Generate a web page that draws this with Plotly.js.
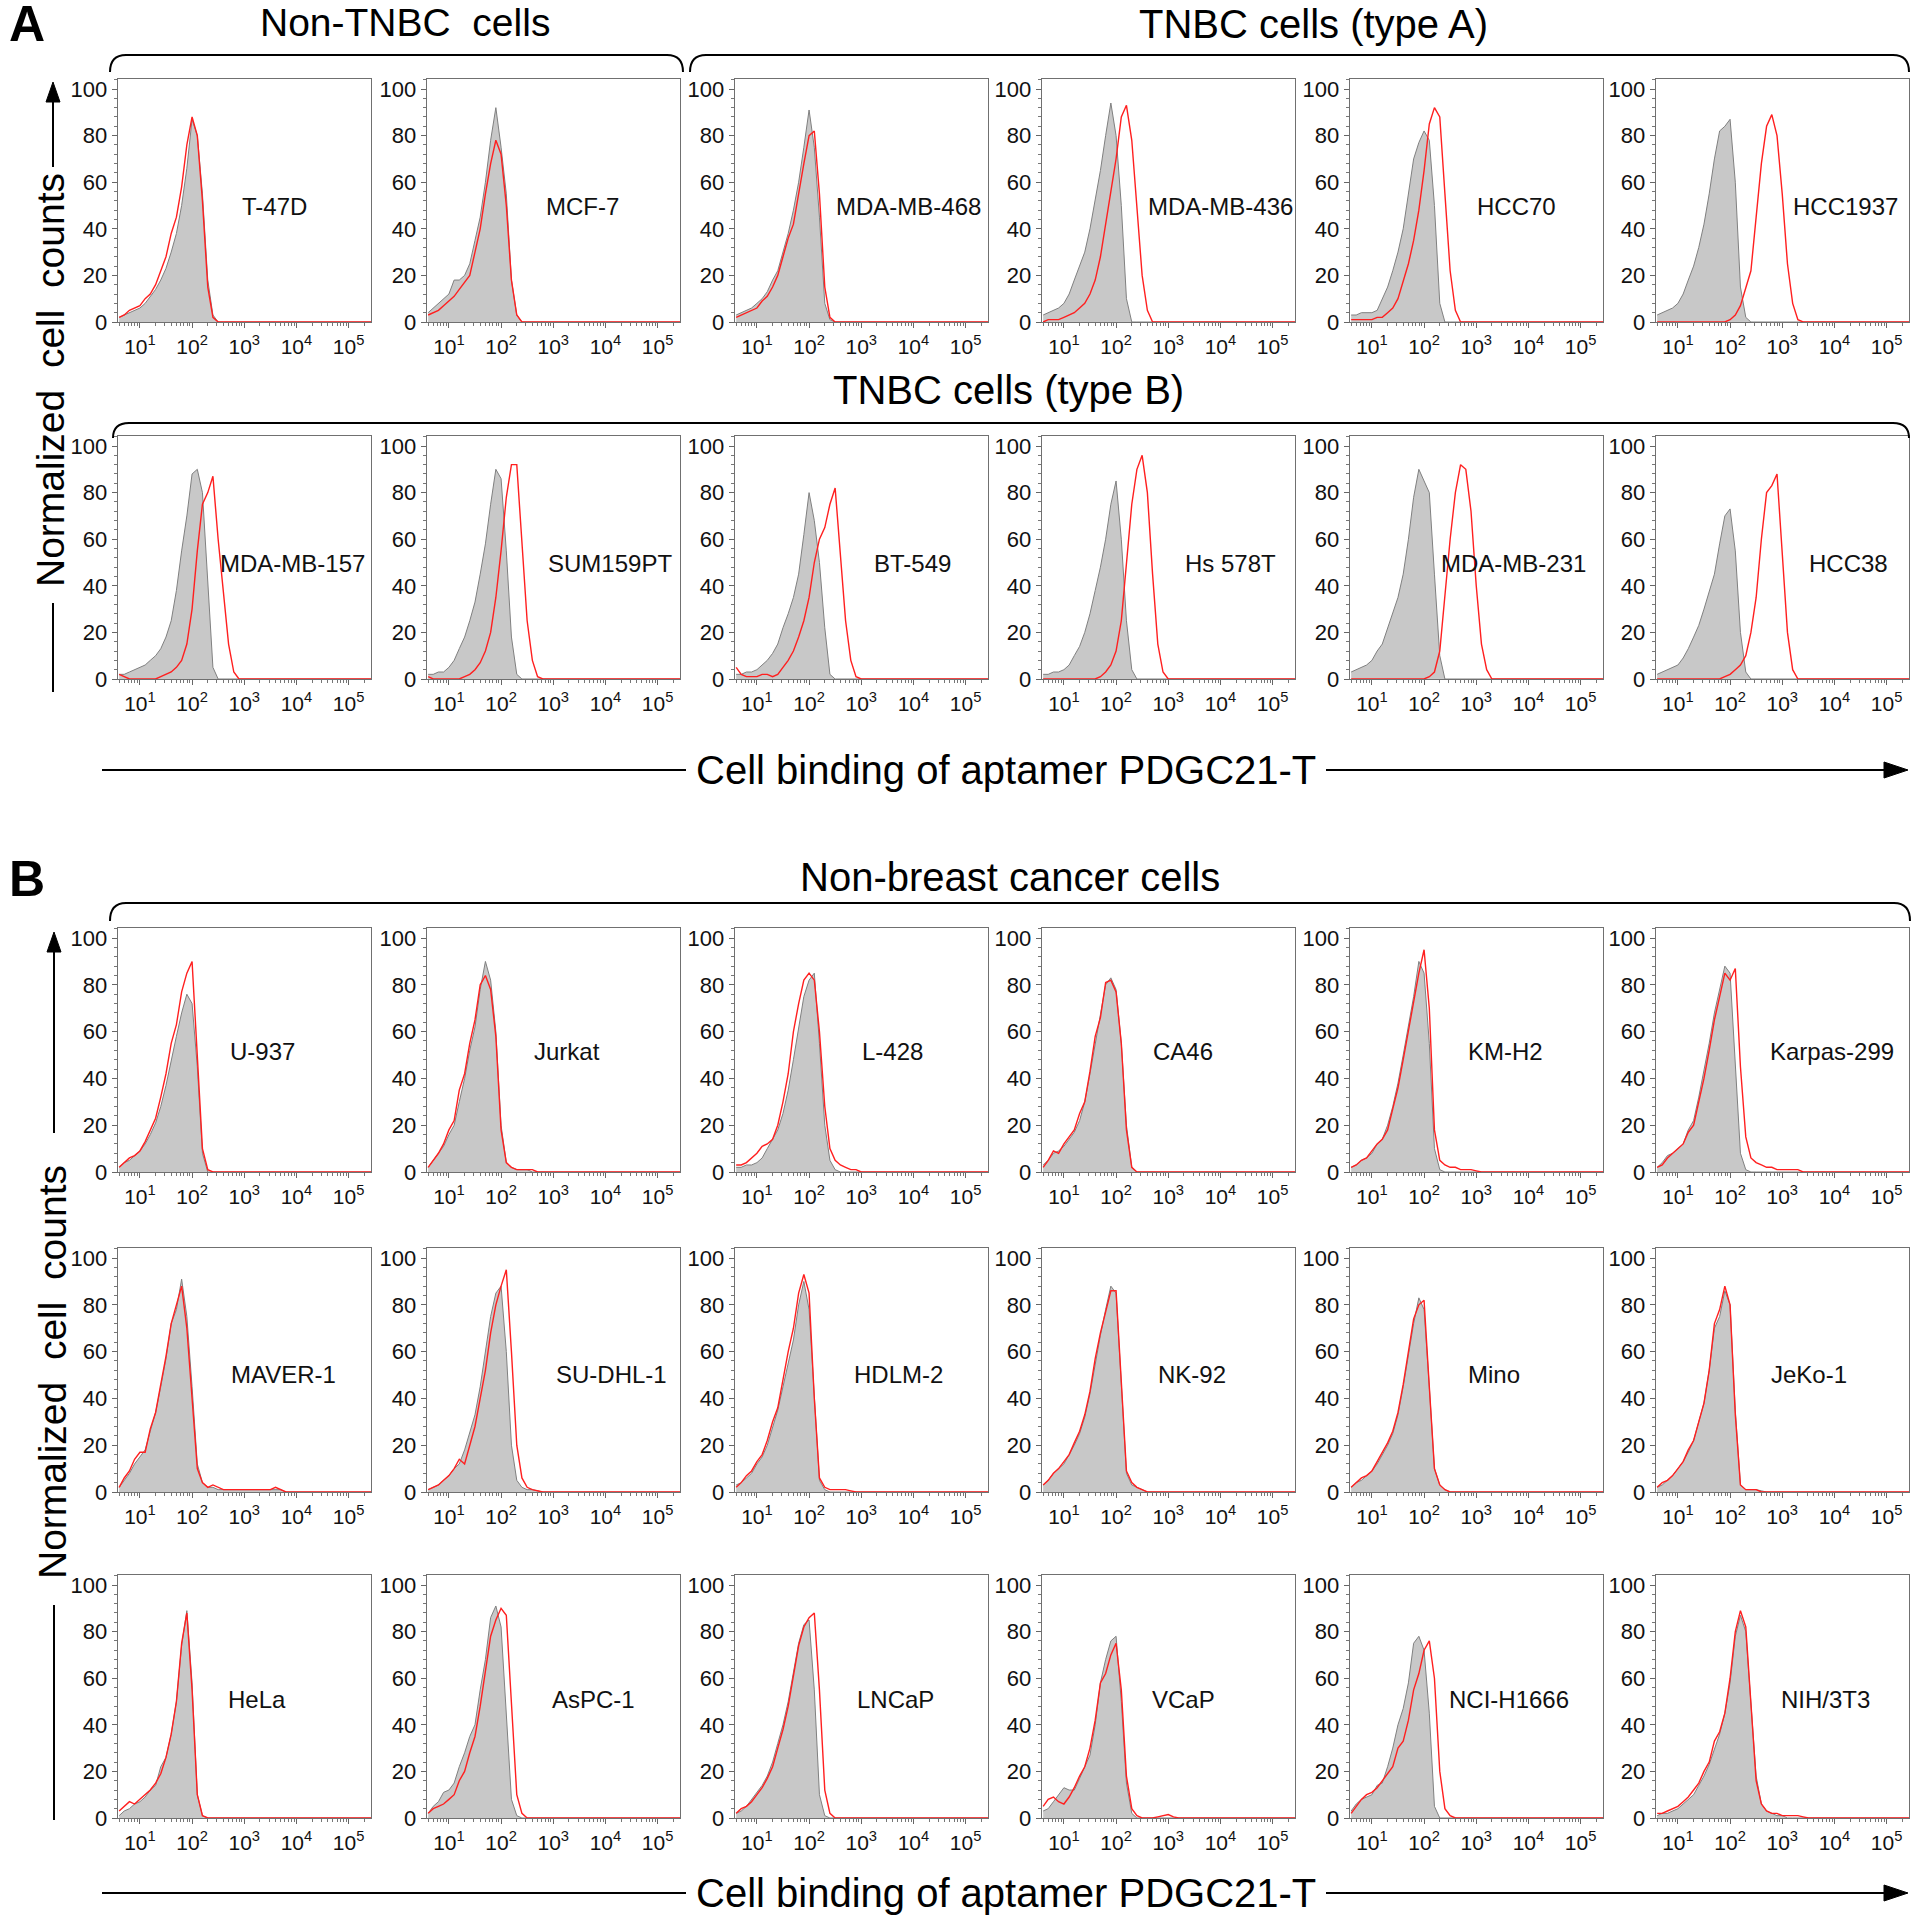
<!DOCTYPE html>
<html><head><meta charset="utf-8">
<script src="https://cdn.plot.ly/plotly-3.0.1.min.js"></script>
<style>html,body{margin:0;padding:0;background:#fff}</style>
</head><body><div id="chart" style="width:1918px;height:1920px"></div>
<script>
// ---------- DATA ----------
// fluorescence intensity bins (log10 = 0.6, 0.7, ... 4.0) plus far-right baseline point
const intensity = [4.0, 5.0, 6.3, 7.9, 10, 12.6, 15.8, 20, 25.1, 31.6, 39.8, 50.1, 63.1, 79.4, 100,
  126, 158, 200, 251, 316, 398, 501, 631, 794, 1000, 1259, 1585, 1995, 2512, 3162,
  3981, 5012, 6310, 7943, 10000, 300000];

const cellLines = ["T-47D","MCF-7","MDA-MB-468","MDA-MB-436","HCC70","HCC1937",
  "MDA-MB-157","SUM159PT","BT-549","Hs 578T","MDA-MB-231","HCC38",
  "U-937","Jurkat","L-428","CA46","KM-H2","Karpas-299",
  "MAVER-1","SU-DHL-1","HDLM-2","NK-92","Mino","JeKo-1",
  "HeLa","AsPC-1","LNCaP","VCaP","NCI-H1666","NIH/3T3"];

const tickLabels = ["10<sup>1</sup>","10<sup>2</sup>","10<sup>3</sup>","10<sup>4</sup>","10<sup>5</sup>"];
const tickValues = [10, 100, 1000, 10000, 100000];

// control (gray, filled) and aptamer PDGC21-T (red) histograms
const c_T47D = [2,3,4,5,6,8,11,14,18,23,30,38,50,66,87,80,55,18,3,0];
const a_T47D = [2,3,5,6,7,10,12,16,22,28,38,45,58,76,88,80,52,15,2,0];
const c_MCF7 = [4,6,8,10,12,18,18,20,25,35,45,60,78,92,75,55,18,3,0];
const a_MCF7 = [3,4,5,7,9,11,14,17,20,30,40,55,68,78,72,50,18,3,0];
const c_MDAMB468 = [3,4,5,6,8,10,13,18,22,30,38,48,60,75,91,75,45,8,1,0];
const a_MDAMB468 = [2,3,4,5,6,9,11,15,20,28,36,42,56,68,80,82,55,15,2,0];
const c_MDAMB436 = [3,4,5,6,8,12,18,24,30,40,52,65,80,94,80,50,10,0];
const a_MDAMB436 = [0,1,1,1,2,3,4,6,8,12,18,28,42,55,70,88,93,78,50,20,5,0];
const c_HCC70 = [3,3,4,4,4,5,10,15,22,30,40,55,70,77,82,78,50,8,0];
const a_HCC70 = [1,1,1,1,1,2,2,4,6,10,17,25,35,48,65,85,92,88,55,22,5,0];
const c_HCC1937 = [3,4,5,6,8,12,18,24,32,42,55,70,82,84,87,60,15,2,0];
const a_HCC1937 = [0,0,0,0,0,0,0,0,0,0,0,0,0,0,1,3,7,15,22,45,68,84,89,80,55,25,8,1,0];

const c_MDAMB157 = [2,2,3,4,5,6,8,10,13,18,25,38,55,70,88,90,80,40,5,0];
const a_MDAMB157 = [2,1,0,0,0,0,0,0,1,2,3,5,8,15,30,55,75,80,87,60,38,15,3,0];
const c_SUM159PT = [2,2,3,3,5,8,13,18,25,33,45,58,75,90,86,55,18,2,0];
const a_SUM159PT = [1,0,0,0,0,0,0,1,2,4,7,12,20,35,55,78,92,92,60,25,8,1,0];
const c_BT549 = [2,2,3,3,4,6,8,11,15,22,28,35,45,62,80,68,50,22,2,0];
const a_BT549 = [5,2,1,1,1,2,2,1,2,5,8,12,18,25,35,50,60,65,75,82,55,25,8,1,0];
const c_Hs578T = [2,2,3,3,4,6,10,14,20,28,38,48,60,75,85,60,25,4,0];
const a_Hs578T = [0,0,0,0,0,0,0,0,0,0,0,1,3,6,12,25,50,75,90,96,80,45,15,3,0];
const c_MDAMB231 = [3,4,5,6,8,12,15,22,28,35,45,60,78,90,85,80,45,10,0];
const a_MDAMB231 = [0,0,0,0,0,0,0,0,0,0,0,0,0,0,0,1,3,12,35,60,80,92,90,72,40,15,4,0];
const c_HCC38 = [2,3,4,5,6,9,13,18,23,30,38,45,58,70,73,55,20,3,0];
const a_HCC38 = [0,0,0,0,0,0,0,0,0,0,0,0,0,1,2,4,6,10,20,35,60,80,83,88,55,20,4,0];

const c_U937 = [2,4,5,7,9,12,16,21,28,37,48,58,68,76,72,45,8,0];
const a_U937 = [2,4,6,7,9,13,18,23,32,42,55,63,77,85,90,50,10,1,0];
const c_Jurkat = [2,5,8,11,16,20,30,40,52,62,78,90,82,60,20,4,2,1,1,1,0];
const a_Jurkat = [2,5,8,12,18,22,35,42,55,65,80,84,78,58,18,4,2,1,1,1,1,0];
const c_L428 = [2,2,3,3,4,6,10,14,18,25,35,48,62,75,82,85,55,20,5,1,0];
const a_L428 = [3,3,4,6,8,11,12,14,20,30,42,60,72,82,85,82,60,28,10,5,3,2,1,1,0];
const c_CA46 = [3,5,8,9,11,14,17,22,30,42,55,67,80,83,78,55,20,2,0];
const a_CA46 = [2,5,9,8,12,15,18,25,30,43,58,66,81,82,77,55,18,2,0];
const c_KMH2 = [2,3,5,6,8,12,14,20,28,38,50,62,75,90,85,55,10,1,0];
const a_KMH2 = [2,3,5,6,9,12,14,18,27,36,48,60,72,85,95,70,18,5,3,2,2,1,1,1,0.5,0];
const c_Karpas299 = [2,4,7,8,10,12,18,22,32,43,55,68,78,88,85,45,8,1,0];
const a_Karpas299 = [2,3,6,8,10,12,17,20,30,40,52,65,75,85,82,87,45,15,6,4,3,2,2,1,1,1,1,1,0];

const c_MAVER1 = [2,5,8,12,15,18,26,34,45,57,72,78,91,75,45,12,4,2,2,1,1,1,1,1,1,1,1,1,1,1,1,1,0];
const a_MAVER1 = [2,6,9,14,17,17,27,34,46,58,72,80,88,70,42,10,4,2,3,2,1,1,1,1,1,1,1,1,1,1,2,1,0];
const c_SUDHL1 = [1,2,3,5,7,10,12,18,25,33,45,60,75,85,88,60,20,5,2,1,1,0.5,0];
const a_SUDHL1 = [1,2,3,5,7,10,14,12,20,28,40,52,68,80,88,95,60,20,6,2,1,0.5,0];
const c_HDLM2 = [3,4,6,8,12,15,20,28,35,45,55,65,80,90,78,40,5,1,0];
const a_HDLM2 = [2,4,7,9,13,16,22,30,36,48,60,70,85,93,85,40,6,2,1,1,1,1,0.5,0];
const c_NK92 = [3,5,8,10,12,16,20,25,32,42,55,67,78,88,85,45,8,3,2,1,0];
const a_NK92 = [3,5,8,10,13,16,21,26,33,43,57,68,77,86,86,45,9,4,2,1,0];
const c_Mino = [2,4,5,7,9,12,16,20,25,33,45,58,72,83,78,45,10,3,1,0];
const a_Mino = [2,4,6,7,9,13,17,21,26,34,46,60,74,80,82,45,10,3,1,0];
const c_JeKo1 = [2,3,5,7,10,13,17,22,30,38,52,70,75,86,80,35,3,1,1,1,0.5,0];
const a_JeKo1 = [2,4,5,7,10,13,18,22,30,38,52,72,78,88,80,33,3,1,1,1,0];

const c_HeLa = [1,3,4,6,7,9,12,14,22,26,36,50,74,89,58,10,1,0];
const a_HeLa = [3,5,7,6,8,10,12,15,19,26,36,50,75,88,55,10,1,0];
const c_AsPC1 = [2,5,7,11,12,15,22,28,35,40,55,68,86,91,82,45,8,1,0];
const a_AsPC1 = [2,4,5,6,8,10,16,20,28,35,48,62,78,85,90,87,50,10,2,0];
const c_LNCaP = [2,3,5,8,11,14,18,24,32,40,50,62,75,83,85,55,10,1,0];
const a_LNCaP = [2,4,5,7,10,13,17,22,30,38,48,62,74,82,86,88,55,12,2,0];
const c_VCaP = [3,4,7,10,13,12,12,17,22,27,40,58,68,76,78,50,15,2,0];
const a_VCaP = [5,8,9,7,6,9,13,18,22,30,42,58,62,70,75,55,18,4,1,0,0,0,0.5,1,1.5,0.5,0];
const c_NCIH1666 = [3,6,8,9,10,14,15,22,30,40,47,58,75,78,72,45,5,0];
const a_NCIH1666 = [2,5,8,10,11,13,16,19,22,30,33,42,55,62,72,76,60,20,4,1,0];
const c_NIH3T3 = [1,2,2,3,4,6,8,10,14,18,23,30,36,45,58,78,87,80,50,18,6,3,2,1,1,0];
const a_NIH3T3 = [2,2,3,4,5,7,9,12,15,20,24,33,37,45,60,80,89,82,48,16,6,3,2,2,1,1,1,1,0.5,0];

const controlSeries = [c_T47D,c_MCF7,c_MDAMB468,c_MDAMB436,c_HCC70,c_HCC1937,
  c_MDAMB157,c_SUM159PT,c_BT549,c_Hs578T,c_MDAMB231,c_HCC38,
  c_U937,c_Jurkat,c_L428,c_CA46,c_KMH2,c_Karpas299,
  c_MAVER1,c_SUDHL1,c_HDLM2,c_NK92,c_Mino,c_JeKo1,
  c_HeLa,c_AsPC1,c_LNCaP,c_VCaP,c_NCIH1666,c_NIH3T3];
const aptamerSeries = [a_T47D,a_MCF7,a_MDAMB468,a_MDAMB436,a_HCC70,a_HCC1937,
  a_MDAMB157,a_SUM159PT,a_BT549,a_Hs578T,a_MDAMB231,a_HCC38,
  a_U937,a_Jurkat,a_L428,a_CA46,a_KMH2,a_Karpas299,
  a_MAVER1,a_SUDHL1,a_HDLM2,a_NK92,a_Mino,a_JeKo1,
  a_HeLa,a_AsPC1,a_LNCaP,a_VCaP,a_NCIH1666,a_NIH3T3];

// ---------- LAYOUT GEOMETRY (pixels) ----------
const W = 1918, H = 1920;
const colLeft = [118, 427, 735, 1042, 1350, 1656];
const colWidth = 253;
const rowTop = [79, 436, 928, 1248, 1575];
const rowBottom = [322, 679, 1172, 1492, 1818];
const labelX = [274,582,908,1220,1516,1845, 292,610,912,1230,1513,1848,
  262,567,892,1183,1505,1832, 283,611,898,1192,1494,1809, 257,593,895,1183,1509,1825];
const labelY = [206, 563, 1051, 1374, 1699];

const FONT = "Liberation Sans, Arial, Helvetica, sans-serif";
const X = p => p / W;
const Y = p => 1 - p / H;

function padTo(arr, n) { const out = arr.slice(); while (out.length < n) out.push(0); return out; }

const minorX = [];
for (let d = 0; d <= 5; d++) for (let m = 2; m <= 9; m++) minorX.push(m * Math.pow(10, d));

const traces = [];
const layout = {
  width: W, height: H, autosize: false,
  margin: {l: 0, r: 0, t: 0, b: 0},
  paper_bgcolor: "#fff", plot_bgcolor: "#fff",
  showlegend: false,
  font: {family: FONT, color: "#000"},
  annotations: [], shapes: []
};

for (let k = 0; k < 30; k++) {
  const r = Math.floor(k / 6), c = k % 6, n = k + 1;
  const xa = "x" + (n > 1 ? n : ""), ya = "y" + (n > 1 ? n : "");
  const N = intensity.length;
  traces.push({
    x: intensity, y: padTo(controlSeries[k], N), xaxis: xa, yaxis: ya,
    type: "scatter", mode: "lines", fill: "tozeroy",
    fillcolor: "#c8c8c8", line: {color: "#808080", width: 1}, hoverinfo: "skip"
  });
  traces.push({
    x: intensity, y: padTo(aptamerSeries[k], N), xaxis: xa, yaxis: ya,
    type: "scatter", mode: "lines",
    line: {color: "#ff1f1f", width: 1.4}, hoverinfo: "skip"
  });
  layout["xaxis" + (n > 1 ? n : "")] = {
    type: "log", range: [0.58, 5.43],
    domain: [X(colLeft[c]), X(colLeft[c] + colWidth)],
    anchor: ya, tickmode: "array", tickvals: tickValues, ticktext: tickLabels,
    ticks: "outside", ticklen: 5, tickcolor: "#666", tickwidth: 1,
    showline: true, mirror: true, linecolor: "#707070", linewidth: 1.3,
    showgrid: false, zeroline: false, fixedrange: true,
    tickfont: {family: FONT, size: 21, color: "#111"},
    minor: {tickmode: "array", tickvals: minorX, ticks: "outside", ticklen: 3, tickcolor: "#777", showgrid: false}
  };
  layout["yaxis" + (n > 1 ? n : "")] = {
    range: [0, 104.3],
    domain: [Y(rowBottom[r]), Y(rowTop[r])],
    anchor: xa, tickmode: "linear", tick0: 0, dtick: 20,
    ticks: "outside", ticklen: 5, tickcolor: "#666", tickwidth: 1,
    showline: true, mirror: true, linecolor: "#707070", linewidth: 1.3,
    showgrid: false, zeroline: false, fixedrange: true,
    tickfont: {family: FONT, size: 22, color: "#111"},
    minor: {tickmode: "linear", tick0: 0, dtick: 4, ticks: "outside", ticklen: 3, tickcolor: "#777", showgrid: false}
  };
  layout.annotations.push({
    xref: "paper", yref: "paper", x: X(labelX[k]), y: Y(labelY[r]),
    text: cellLines[k], showarrow: false, xanchor: "center", yanchor: "middle",
    font: {family: FONT, size: 24, color: "#111"}
  });
}

function ann(text, px, py, size, extra) {
  layout.annotations.push(Object.assign({
    xref: "paper", yref: "paper", x: X(px), y: Y(py), text: text, showarrow: false,
    xanchor: "center", yanchor: "middle", font: {family: FONT, size: size, color: "#000"}
  }, extra || {}));
}
ann("<b>A</b>", 27, 24, 50);
ann("<b>B</b>", 27, 879, 50);
ann("Non-TNBC\u00A0 cells", 405, 22, 39);
ann("TNBC cells (type A)", 1313, 24, 40);
ann("TNBC cells (type B)", 1008, 390, 40);
ann("Non-breast cancer cells", 1010, 877, 40);
ann("Normalized\u00A0 cell\u00A0 counts", 51, 380, 39, {textangle: -90});
ann("Normalized\u00A0 cell\u00A0 counts", 52, 1372, 39, {textangle: -90});
ann("Cell binding of aptamer PDGC21-T", 1006, 770, 40);
ann("Cell binding of aptamer PDGC21-T", 1006, 1893, 40);

function brace(x0, x1, yt, yb, rad) {
  const p = "M " + X(x0) + "," + Y(yb) + " Q " + X(x0) + "," + Y(yt) + " " + X(x0 + rad) + "," + Y(yt) +
    " L " + X(x1 - rad) + "," + Y(yt) + " Q " + X(x1) + "," + Y(yt) + " " + X(x1) + "," + Y(yb);
  layout.shapes.push({type: "path", xref: "paper", yref: "paper", path: p, line: {color: "#000", width: 2}});
}
brace(110, 683, 55, 72, 16);
brace(690, 1909, 55, 72, 16);
brace(113, 1909, 423, 438, 16);
brace(110, 1910, 903, 921, 16);

function line(x0, y0, x1, y1) {
  layout.shapes.push({type: "line", xref: "paper", yref: "paper", x0: X(x0), y0: Y(y0), x1: X(x1), y1: Y(y1),
    line: {color: "#000", width: 2}});
}
function head(path) {
  layout.shapes.push({type: "path", xref: "paper", yref: "paper", path: path, fillcolor: "#000", line: {color: "#000", width: 1}});
}
function upHead(x, tip) {
  head("M " + X(x) + "," + Y(tip) + " L " + X(x - 7) + "," + Y(tip + 20) + " L " + X(x + 7) + "," + Y(tip + 20) + " Z");
}
function rightHead(tip, y) {
  head("M " + X(tip) + "," + Y(y) + " L " + X(tip - 24) + "," + Y(y - 8) + " L " + X(tip - 24) + "," + Y(y + 8) + " Z");
}
// panel A y-arrow
upHead(53, 82); line(53, 100, 53, 167); line(53, 603, 53, 692);
// panel B y-arrow
upHead(54, 932); line(54, 950, 54, 1133); line(54, 1605, 54, 1820);
// x-arrows
line(102, 770, 686, 770); line(1326, 770, 1888, 770); rightHead(1908, 770);
line(102, 1893, 686, 1893); line(1326, 1893, 1888, 1893); rightHead(1908, 1893);

Plotly.newPlot("chart", traces, layout, {staticPlot: true, displayModeBar: false});
</script></body></html>
